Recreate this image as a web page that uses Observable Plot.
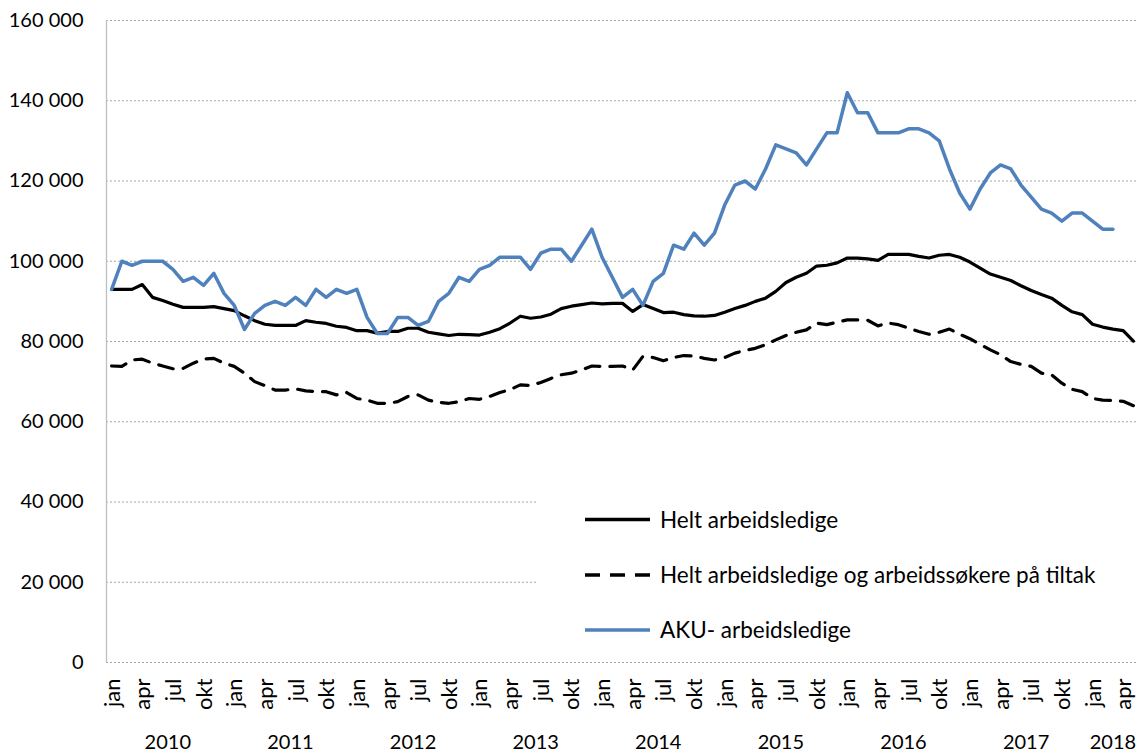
<!DOCTYPE html>
<html>
<head>
<meta charset="utf-8">
<script src="https://cdn.jsdelivr.net/npm/d3@7"></script>
<script src="https://cdn.jsdelivr.net/npm/@observablehq/plot@0.6"></script>
<style>
  html, body { margin: 0; padding: 0; background: #fff; }
  #chart svg { display: block; }
</style>
</head>
<body>
<div id="chart"></div>
<script>
// Month categories: jan 2010 .. mai 2018 (101 months)
const monthNames = ["jan","feb","mar","apr","mai","jun","jul","aug","sep","okt","nov","des"];
const tickMonths = ["jan","apr","jul","okt"];
const years = ["2010","2011","2012","2013","2014","2015","2016","2017","2018"];
const yTicks = [0, 20000, 40000, 60000, 80000, 100000, 120000, 140000, 160000];

const seriesNames = [
  "Helt arbeidsledige",
  "Helt arbeidsledige og arbeidssøkere på tiltak",
  "AKU- arbeidsledige"
];

// Helt arbeidsledige
const helt = [
  93000, 93000, 93000, 94200, 91000, 90200, 89300, 88500, 88500, 88500, 88700, 88200,
  87700, 86400, 85200, 84300, 84000, 84000, 84000, 85200, 84800, 84500, 83800, 83500,
  82700, 82700, 82100, 82500, 82500, 83300, 83300, 82300, 81900, 81500, 81800, 81700,
  81600, 82300, 83200, 84600, 86300, 85800, 86100, 86800, 88200, 88800, 89200, 89600,
  89400, 89500, 89500, 87500, 89200, 88200, 87200, 87300, 86700, 86400, 86300, 86500,
  87300, 88200, 89000, 90000, 90800, 92500, 94700, 96000, 97000, 98800, 99000, 99600,
  100800, 100800, 100600, 100200, 101700, 101700, 101700, 101200, 100800, 101500, 101700, 101000,
  99800, 98300, 96800, 96000, 95200, 93900, 92700, 91700, 90800, 89000, 87400, 86700,
  84300, 83600, 83100, 82700, 80100
];

// Helt arbeidsledige og arbeidssøkere på tiltak
const tiltak = [
  73900, 73800, 75400, 75600, 74600, 73900, 73200, 73300, 74600, 75600, 75800, 74600,
  73800, 72100, 70000, 69000, 67900, 67900, 68200, 67700, 67500, 67500, 66700, 67300,
  65800, 65400, 64600, 64600, 65000, 66300, 66700, 65400, 64800, 64600, 65000, 65800,
  65600, 66300, 67300, 68000, 69200, 69000, 69800, 70800, 71700, 72100, 72900, 73900,
  73800, 73800, 73900, 72900, 76300, 76000, 75200, 76000, 76500, 76400, 75800, 75400,
  76000, 77100, 77800, 78300, 79200, 80400, 81500, 82300, 82900, 84600, 84200, 84800,
  85400, 85400, 85300, 83900, 84600, 84200, 83300, 82500, 81800, 82300, 83100, 81800,
  80700, 79300, 77900, 76700, 75000, 74300, 73800, 72100, 71700, 69600, 68100, 67500,
  65800, 65400, 65300, 65100, 64000
];

// AKU- arbeidsledige
const aku = [
  93000, 100000, 99000, 100000, 100000, 100000, 98000, 95000, 96000, 94000, 97000, 92000,
  89000, 83000, 87000, 89000, 90000, 89000, 91000, 89000, 93000, 91000, 93000, 92000,
  93000, 86000, 82000, 82000, 86000, 86000, 84000, 85000, 90000, 92000, 96000, 95000,
  98000, 99000, 101000, 101000, 101000, 98000, 102000, 103000, 103000, 100000, 104000, 108000,
  101000, 96000, 91000, 93000, 89000, 95000, 97000, 104000, 103000, 107000, 104000, 107000,
  114000, 119000, 120000, 118000, 123000, 129000, 128000, 127000, 124000, 128000, 132000, 132000,
  142000, 137000, 137000, 132000, 132000, 132000, 133000, 133000, 132000, 130000, 123000, 117000,
  113000, 118000, 122000, 124000, 123000, 119000, 116000, 113000, 112000, 110000, 112000, 112000,
  110000, 108000, 108000
];

const nMonths = helt.length;
const toRows = arr => arr.map((v, i) => ({i, v}));
const monthTickRows = d3.range(0, nMonths).filter(i => tickMonths.includes(monthNames[i % 12]))
  .map(i => ({i, label: monthNames[i % 12]}));
const yearRows = years.map((y, k) => {
  const first = 12 * k, last = Math.min(12 * k + 11, nMonths - 1);
  return {i: (first + last) / 2, label: y};
});

const locale = d3.formatLocale({decimal: ",", thousands: "\u00a0", grouping: [3], currency: ["", ""]});
const fmt = locale.format(",d");

const FONT = "Lato, 'Open Sans', sans-serif";
const blue = "#4F81BD";
const LW = 3.2;

function legendMark() {
  const g = d3.create("svg:g");
  g.append("rect").attr("x", 537).attr("y", 468).attr("width", 603).attr("height", 188).attr("fill", "#fff");
  const items = [
    {name: seriesNames[0], stroke: "#000", dash: null, y: 519.5},
    {name: seriesNames[1], stroke: "#000", dash: "15,10", y: 575},
    {name: seriesNames[2], stroke: blue, dash: null, y: 630}
  ];
  for (const it of items) {
    const l = g.append("line").attr("x1", 585).attr("x2", 650).attr("y1", it.y).attr("y2", it.y)
      .attr("stroke", it.stroke).attr("stroke-width", 3.6);
    if (it.dash) l.attr("stroke-dasharray", it.dash);
    g.append("text").attr("x", 660).attr("y", it.y).attr("dy", "0.36em")
      .attr("text-anchor", "start")
      .attr("font-family", FONT).attr("font-size", 22.5).attr("fill", "#000").text(it.name);
  }
  return g.node();
}

const chart = Plot.plot({
  width: 1140,
  height: 753,
  marginLeft: 106,
  marginRight: 2,
  marginTop: 20,
  marginBottom: 91,
  style: {fontFamily: FONT, background: "#fff", color: "#000", overflow: "visible"},
  x: {type: "linear", domain: [-0.5, nMonths - 0.5], axis: null},
  y: {domain: [0, 160000], axis: null},
  marks: [
    Plot.ruleY(yTicks, {stroke: "#a6a6a6", strokeWidth: 1, strokeDasharray: "2,2"}),
    Plot.ruleX([-0.5], {stroke: "#bfbfbf", strokeWidth: 1.3}),
    legendMark,
    Plot.text(yTicks, {y: d => d, text: d => fmt(d), frameAnchor: "left", lineAnchor: "middle", textAnchor: "end", dx: -23, fontSize: 20, fill: "#000"}),
    Plot.text(monthTickRows, {x: "i", text: "label", frameAnchor: "bottom", lineAnchor: "middle", rotate: -90, textAnchor: "end", dy: 16, dx: 1, fontSize: 22, fill: "#000"}),
    Plot.text(yearRows, {x: "i", text: "label", frameAnchor: "bottom", lineAnchor: "middle", dy: 80, fontSize: 20, fill: "#000"}),
    Plot.line(toRows(helt), {x: "i", y: "v", stroke: "#000", strokeWidth: LW, strokeLinejoin: "round"}),
    Plot.line(toRows(tiltak), {x: "i", y: "v", stroke: "#000", strokeWidth: LW, strokeDasharray: "15,10", strokeLinejoin: "round"}),
    Plot.line(toRows(aku), {x: "i", y: "v", stroke: blue, strokeWidth: LW + 0.3, strokeLinejoin: "round"})
  ]
});
document.getElementById("chart").appendChild(chart);
</script>
</body>
</html>
